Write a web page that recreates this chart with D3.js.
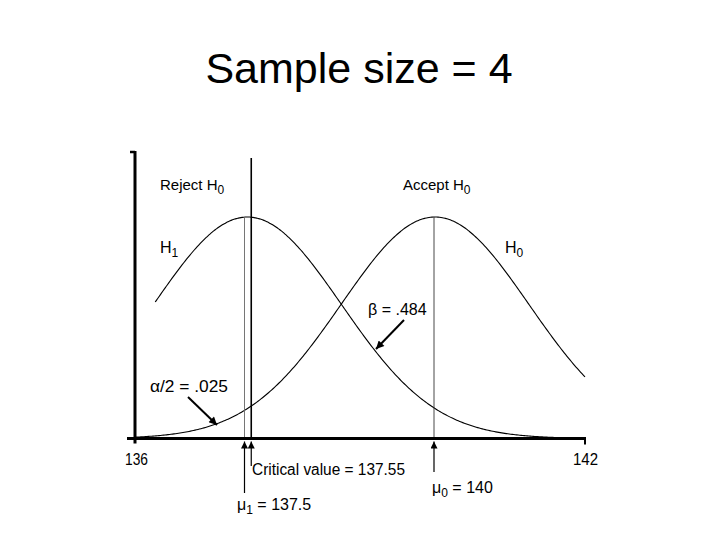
<!DOCTYPE html>
<html>
<head>
<meta charset="utf-8">
<script src="https://cdn.jsdelivr.net/npm/d3@7"></script>
<style>
  html, body { margin: 0; padding: 0; background: #fff; }
  svg { display: block; }
  .lbl { font-family: "Liberation Sans", Arial, sans-serif; font-size: 16px; fill: #000; }
  .arial { font-family: "Liberation Sans", Arial, sans-serif; fill: #000; }
</style>
</head>
<body>
<svg id="chart" width="720" height="540"></svg>
<script>
// ---- data ----
const title = "Sample size = 4";
const xTicks = [136, 142];
const hypotheses = ["H1", "H0"];
const means = [137.5, 140];
const sds = [1.25, 1.25];
const curveStart = [136.27, 136];
const curveEnd = [142, 142];
const criticalValue = 137.55;
const alphaHalfText = ".025";
const betaText = ".484";

// ---- layout ----
const svg = d3.select("#chart");
const x = d3.scaleLinear().domain([136, 142]).range([135, 585]);
const pdf = (v, m, s) => Math.exp(-0.5 * ((v - m) / s) ** 2) / (s * Math.sqrt(2 * Math.PI));
const peak = pdf(means[0], means[0], sds[0]);
const y = d3.scaleLinear().domain([0, peak]).range([438.5, 217]);

// defs: arrow heads
const defs = svg.append("defs");
defs.append("marker")
  .attr("id", "head").attr("viewBox", "0 0 10 10").attr("refX", 10).attr("refY", 5)
  .attr("markerWidth", 13).attr("markerHeight", 8).attr("markerUnits", "userSpaceOnUse")
  .attr("orient", "auto")
  .append("path").attr("d", "M0,0 L10,5 L0,10 Z").attr("fill", "#000");
defs.append("marker")
  .attr("id", "headS").attr("viewBox", "0 0 10 10").attr("refX", 10).attr("refY", 5)
  .attr("markerWidth", 9).attr("markerHeight", 7).attr("markerUnits", "userSpaceOnUse")
  .attr("orient", "auto")
  .append("path").attr("d", "M0,0 L10,5 L0,10 Z").attr("fill", "#000");

// title
svg.append("text").attr("class", "arial").attr("x", 359).attr("y", 83)
  .attr("text-anchor", "middle").style("font-size", "43px").text(title);

// curves
const line = d3.line().x(d => x(d[0])).y(d => y(d[1])).curve(d3.curveBasis);
hypotheses.forEach((h, i) => {
  const pts = d3.range(curveStart[i], curveEnd[i] + 1e-9, 0.02).map(v => [v, pdf(v, means[i], sds[i])]);
  svg.append("path").datum(pts).attr("d", line)
    .attr("fill", "none").attr("stroke", "#000").attr("stroke-width", 1.1);
});

// mean lines (thin)
means.forEach((m, i) => {
  const xo = x(m) - (i === 0 ? 3 : 1);
  svg.append("line").attr("x1", xo).attr("x2", xo)
    .attr("y1", y(pdf(m, m, sds[i]))).attr("y2", y(0))
    .attr("stroke", i === 0 ? "#666" : "#333").attr("stroke-width", 0.9);
});

// critical value line
svg.append("line").attr("x1", x(criticalValue)).attr("x2", x(criticalValue))
  .attr("y1", 158).attr("y2", y(0)).attr("stroke", "#000").attr("stroke-width", 1.6);

// axes
const axisY = y(0);
svg.append("line").attr("x1", 127).attr("x2", x(xTicks[1]) + 1).attr("y1", axisY).attr("y2", axisY)
  .attr("stroke", "#000").attr("stroke-width", 3);
svg.append("line").attr("x1", x(xTicks[0])).attr("x2", x(xTicks[0])).attr("y1", 151).attr("y2", axisY + 5)
  .attr("stroke", "#000").attr("stroke-width", 3);
svg.append("line").attr("x1", 130).attr("x2", x(xTicks[0])).attr("y1", 152).attr("y2", 152)
  .attr("stroke", "#000").attr("stroke-width", 2.5);
svg.append("line").attr("x1", x(xTicks[1])).attr("x2", x(xTicks[1])).attr("y1", axisY).attr("y2", axisY + 6)
  .attr("stroke", "#000").attr("stroke-width", 2);

// label helper: parts = [[text, isSub], ...]
function label(xp, yp, parts, size, width) {
  const t = svg.append("text").attr("class", "lbl").attr("x", xp).attr("y", yp)
    .style("font-size", size + "px");
  let sub = false;
  parts.forEach(([s, isSub]) => {
    const ts = t.append("tspan").text(s);
    if (isSub) ts.style("font-size", "12px");
    if (isSub && !sub) ts.attr("dy", 4);
    else if (!isSub && sub) ts.attr("dy", -4);
    sub = isSub;
  });
  if (width) t.attr("textLength", width).attr("lengthAdjust", "spacingAndGlyphs");
  return t;
}

// tick labels
label(125, 465, [[String(xTicks[0]), false]], 16, 23);
label(573, 465, [[String(xTicks[1]), false]], 16, 25);

label(160, 190, [["Reject H", false], ["0", true]], 15);
label(403, 190, [["Accept H", false], ["0", true]], 15);
label(160, 253, [["H", false], ["1", true]], 16);
label(505, 253, [["H", false], ["0", true]], 16);

// beta and alpha labels
svg.append("text").attr("class", "arial").attr("x", 368).attr("y", 315)
  .style("font-size", "16px").text("β = " + betaText);
label(150, 392, [["α/2 = " + alphaHalfText, false]], 16, 78);

// pointer arrows
svg.append("line").attr("x1", 404).attr("y1", 320).attr("x2", 376).attr("y2", 349)
  .attr("stroke", "#000").attr("stroke-width", 2).attr("marker-end", "url(#head)");
svg.append("line").attr("x1", 188).attr("y1", 397).attr("x2", 217).attr("y2", 425)
  .attr("stroke", "#000").attr("stroke-width", 2).attr("marker-end", "url(#head)");

// arrows below axis
const upArrows = [
  { v: means[0], off: -3, bottom: 493 },
  { v: criticalValue, off: 0, bottom: 466 },
  { v: means[1], off: -1, bottom: 472 }
];
upArrows.forEach(a => {
  svg.append("line").attr("x1", x(a.v) + a.off).attr("x2", x(a.v) + a.off)
    .attr("y1", a.bottom).attr("y2", axisY + 3)
    .attr("stroke", "#000").attr("stroke-width", 1.2).attr("marker-end", "url(#headS)");
});

label(252, 475, [["Critical value = " + criticalValue, false]], 16, 153);
label(237, 510, [["μ", false], ["1", true], [" = " + means[0], false]], 16);
label(432, 493, [["μ", false], ["0", true], [" = " + means[1], false]], 16);
</script>
</body>
</html>
